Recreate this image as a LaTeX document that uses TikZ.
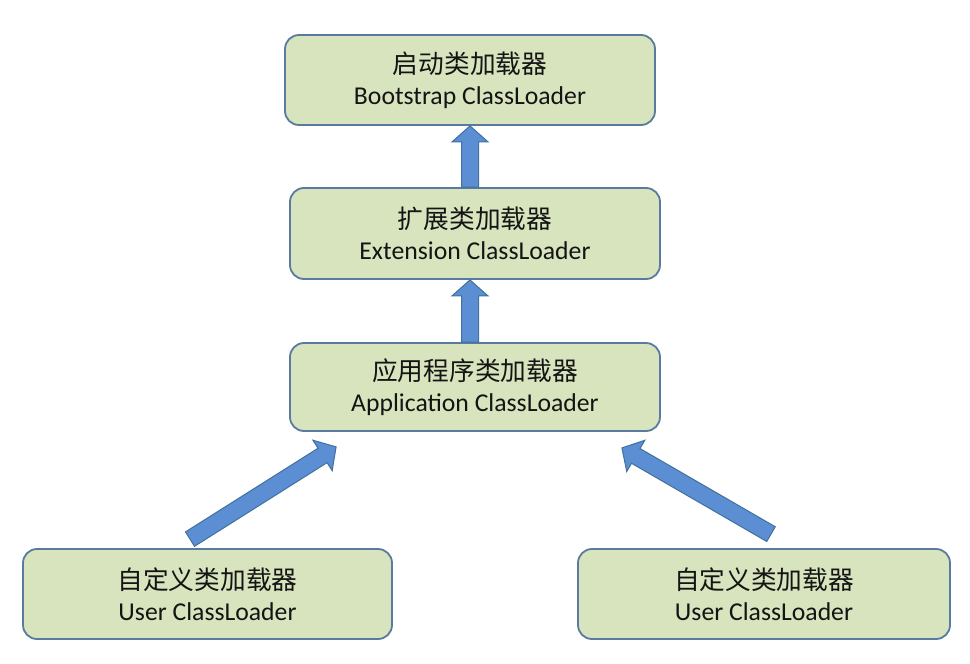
\documentclass[tikz,border=0pt]{standalone}
\usepackage{fontspec}
\setmainfont{Carlito}
\newfontfamily\cjk{Noto Sans CJK SC}
\usetikzlibrary{calc}
\definecolor{boxfill}{HTML}{D7E4BD}
\definecolor{boxdraw}{HTML}{5A7BA0}
\definecolor{arrfill}{HTML}{5B8ED3}
\definecolor{arrdraw}{HTML}{41719C}
\definecolor{txt}{HTML}{141414}
\newcommand{\blockarrow}[2]{%
  \coordinate (hb) at ($(#2)!16pt!(#1)$);
  \draw[barrow] ($(#1)!8.5pt!90:(#2)$) -- ($(hb)!8.5pt!-90:(#1)$) -- ($(hb)!18pt!-90:(#1)$) -- (#2)
    -- ($(hb)!18pt!90:(#1)$) -- ($(hb)!8.5pt!90:(#1)$) -- ($(#1)!8.5pt!-90:(#2)$) -- cycle;}
\begin{document}
\begin{tikzpicture}[x=1pt,y=-1pt,
  loader/.style={draw=boxdraw, line width=1.8pt, fill=boxfill, rounded corners=14pt,
    minimum width=370pt, inner sep=0pt, align=center, text=txt,
    font=\fontsize{25.7}{31}\selectfont},
  barrow/.style={draw=arrdraw, line width=1pt, fill=arrfill, line join=miter}]
\useasboundingbox[fill=white] (0,0) rectangle (970,664);
\node[loader, minimum height=90pt] (b1) at (470,80) {{\cjk 启动类加载器}\\Bootstrap ClassLoader};
\node[loader, minimum height=91pt] (b2) at (475,233.5) {{\cjk 扩展类加载器}\\Extension ClassLoader};
\node[loader, minimum height=88pt] (b3) at (475,387) {{\cjk 应用程序类加载器}\\Application ClassLoader};
\node[loader, minimum height=90pt, minimum width=369pt] (b4) at (207.5,594) {{\cjk 自定义类加载器}\\User ClassLoader};
\node[loader, minimum height=90pt, minimum width=372pt] (b5) at (764,594) {{\cjk 自定义类加载器}\\User ClassLoader};
\coordinate (t1) at (b1.south |- b2.north);
\coordinate (h1) at (b1.south);
\coordinate (t2) at (b1.south |- b3.north);
\coordinate (h2) at (b1.south |- b2.south);
\coordinate (t3) at ($(b4.north)+(-17.5,-9)$);
\coordinate (h3) at ($(b3.south west)+(47,15)$);
\coordinate (t4) at ($(b5.north)+(7,-14)$);
\coordinate (h4) at ($(b3.south east)+(-39,16)$);
\blockarrow{t1}{h1}
\blockarrow{t2}{h2}
\blockarrow{t3}{h3}
\blockarrow{t4}{h4}
\end{tikzpicture}
\end{document}
